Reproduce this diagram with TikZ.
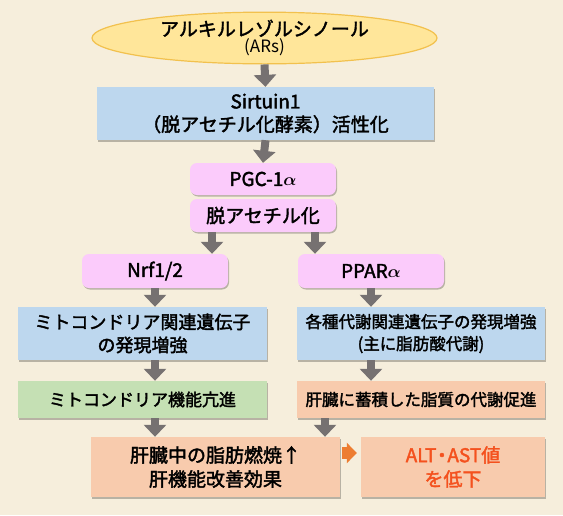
\documentclass[tikz,border=0pt]{standalone}
\usepackage{amsmath}
\usepackage{fontspec}
\setmainfont{Noto Sans CJK JP}[BoldFont=Noto Sans CJK JP, BoldFeatures={FakeBold=2}]
\usepackage{xcolor}
\usetikzlibrary{arrows.meta,positioning,shapes.geometric,shadows}
\definecolor{bgcream}{HTML}{F6EEDC}
\definecolor{arsyellow}{HTML}{FFE69A}
\definecolor{arsedge}{HTML}{F2C14E}
\definecolor{boxblue}{HTML}{BDD7EE}
\definecolor{boxpink}{HTML}{FBCBFB}
\definecolor{boxgreen}{HTML}{C5E0B4}
\definecolor{boxpeach}{HTML}{F8CBAD}
\definecolor{arrgray}{HTML}{767171}
\definecolor{arrorange}{HTML}{ED7D31}
\definecolor{alttext}{HTML}{F4511E}
\newcommand{\fsz}[2]{\fontsize{#1pt}{#2pt}\selectfont\bfseries}

\begin{document}
\begin{tikzpicture}[
    x=1pt, y=-1pt,
    box/.style={minimum height=#1, inner sep=2pt, align=center,
      font=\fsz{18}{23},
      drop shadow={shadow xshift=1pt, shadow yshift=-1.5pt, opacity=0.25, fill=black}},
    box/.default=53pt,
    pill/.style={box=#1, rounded corners=7pt, fill=boxpink, minimum width=146pt, font=\fsz{19}{23}},
    garr/.style={-{Triangle[width=22pt,length=12pt]}, line width=8pt, arrgray},
    oarr/.style={-{Triangle[width=20pt,length=10pt]}, line width=12pt, arrorange}
]
\fill[bgcream] (0,0) rectangle (563,515);
\useasboundingbox (0,0) rectangle (563,515);

\node[ellipse, draw=arsedge, line width=1.2pt, fill=arsyellow, minimum width=345pt, minimum height=47pt, inner sep=0pt, align=center,
  font=\fsz{19}{17}] (ars) at (264.5,38)
  {アルキルレゾルシノール\\{\fsz{17}{17}\mdseries (ARs)}};
\node[box, fill=boxblue, minimum width=337pt, font=\fsz{19}{23}] (sirt) at (265.5,113.5) {Sirtuin1\\（脱アセチル化酵素）活性化};
\node[pill=32pt] (pgc) at (263,179) {PGC-1$\boldsymbol{\alpha}$};
\node[pill=33pt] (deac) at (263,215.5) {脱アセチル化};
\node[pill=34pt] (nrf) at (155,271) {Nrf1/2};
\node[pill=34pt] (ppar) at (371,271) {PPAR$\boldsymbol{\alpha}$};
\node[box, fill=boxblue, minimum width=249pt] (mitgene) at (142.5,333.5) {ミトコンドリア関連遺伝子\\の発現増強};
\node[box, fill=boxblue, minimum width=248pt, font=\fsz{16.5}{22}] (metgene) at (421,333.5) {各種代謝関連遺伝子の発現増強\\(主に脂肪酸代謝)};
\node[box=37pt, fill=boxgreen, minimum width=249pt, font=\fsz{17}{22}] (mitfunc) at (142.5,399.5) {ミトコンドリア機能亢進};
\node[box=37pt, fill=boxpeach, minimum width=248pt, font=\fsz{16.5}{22}] (lipid) at (421,399.5) {肝臓に蓄積した脂質の代謝促進};
\node[box=60pt, fill=boxpeach, minimum width=249pt, font=\fsz{19}{24}] (liver) at (215.5,467) {肝臓中の脂肪燃焼↑\\肝機能改善効果};
\node[box=60pt, fill=boxpeach, minimum width=184pt, text=alttext, font=\fsz{19}{24}] (alt) at (453,467) {ALT\kern-4pt・\kern-4pt AST値\\を低下};

\draw[garr] (ars.south) -- (sirt.north);
\draw[garr] (sirt.south) -- (pgc.north);
\draw[garr] ([xshift=-51pt]deac.south) -- ([xshift=-51pt]deac.south |- nrf.north);
\draw[garr] ([xshift=52pt]deac.south) -- ([xshift=52pt]deac.south |- ppar.north);
\draw[garr] (nrf.south) -- (nrf.south |- mitgene.north);
\draw[garr] (ppar.south) -- (ppar.south |- metgene.north);
\draw[garr] (mitgene.south -| nrf) -- (mitfunc.north -| nrf);
\draw[garr] (metgene.south -| ppar) -- (lipid.north -| ppar);
\draw[garr] (mitfunc.south -| nrf) -- (liver.north -| nrf);
\draw[garr] ([xshift=-96pt]lipid.south) -- ([xshift=-96pt]lipid.south |- liver.north);
\draw[oarr] ([xshift=2pt]liver.east |- 0,453) -- ([xshift=-4pt]alt.west |- 0,453);
\end{tikzpicture}
\end{document}
